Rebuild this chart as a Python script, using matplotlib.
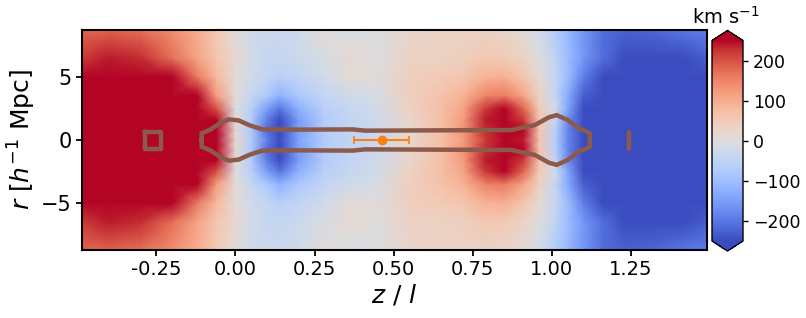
import numpy as np
import matplotlib
matplotlib.use("Agg")
import matplotlib.pyplot as plt

# ---- field samples (upper half, mirrored in r) ----
z_nodes = [-0.485, -0.4, -0.3, -0.2, -0.12, -0.06, 0.0, 0.05, 0.1, 0.14, 0.2, 0.28,
           0.36, 0.45, 0.55, 0.65, 0.72, 0.79, 0.85, 0.91, 0.96, 1.01, 1.05, 1.1,
           1.16, 1.23, 1.32, 1.42, 1.49]
r_nodes = [0.0, 0.8, 1.6, 2.5, 3.5, 5.0, 6.5, 8.7]
v_r0 = [300, 300, 300, 300, 300, 270, 20, -70, -190, -250, -140, -70, -50, -30, 20, 70, 120, 220, 300, 240, 60, -60, -180, -300, -300, -300, -300, -300, -300]
v_r08 = [300, 300, 300, 300, 300, 270, 20, -80, -210, -270, -150, -70, -50, -30, 20, 70, 130, 230, 300, 250, 60, -60, -180, -300, -300, -300, -300, -300, -300]
v_r16 = [300, 300, 300, 300, 300, 260, 10, -70, -190, -280, -150, -70, -45, -25, 25, 70, 120, 240, 300, 220, 60, -40, -170, -300, -300, -300, -300, -300, -300]
v_r25 = [300, 300, 300, 300, 300, 200, 0, -60, -150, -200, -120, -60, -40, -20, 35, 70, 110, 220, 260, 180, 50, -20, -140, -280, -300, -300, -300, -300, -300]
v_r35 = [300, 300, 300, 300, 260, 120, 10, -40, -80, -120, -80, -45, -25, -10, 40, 65, 90, 150, 160, 110, 35, -40, -130, -230, -300, -300, -300, -300, -300]
v_r50 = [300, 300, 300, 260, 160, 80, 10, -25, -40, -60, -45, -25, 10, 5, 40, 50, 60, 90, 95, 60, 15, -40, -100, -190, -260, -300, -300, -300, -280]
v_r65 = [220, 240, 230, 170, 110, 60, 20, -20, -40, -40, -30, -10, 15, 0, 30, 35, 40, 55, 50, 30, 0, -50, -100, -160, -210, -260, -260, -250, -230]
v_r87 = [180, 185, 170, 140, 100, 50, 5, -25, -30, -35, -25, 10, -10, -5, 25, 35, 30, 30, 25, 10, -20, -70, -110, -160, -210, -225, -220, -200, -190]

# ---- contour outline (upper half, mirrored) ----
contour_z = [-0.107, -0.107, -0.078, -0.045, -0.02, 0.01, 0.043, 0.085, 0.2, 0.37, 0.41,
             0.6, 0.8, 0.872, 0.946, 0.99, 1.015, 1.05, 1.083, 1.10, 1.12, 1.12]
contour_r = [0.0, 0.53, 0.84, 1.4, 1.63, 1.55, 1.18, 0.84, 0.82, 0.84, 0.74,
             0.76, 0.78, 0.79, 1.18, 1.79, 1.97, 1.58, 0.92, 0.79, 0.53, 0.0]
square_z = [-0.285, -0.235, -0.235, -0.285, -0.285]
square_r = [0.6, 0.6, -0.7, -0.7, 0.6]
tick_z = [1.243, 1.243]
tick_r = [0.6, -0.7]

# ---- measurement point ----
point_z = 0.462
point_zerr = 0.087
point_r = 0.0

xtick_vals = [-0.25, 0.0, 0.25, 0.5, 0.75, 1.0, 1.25]
xtick_labels = ['-0.25', '0.00', '0.25', '0.50', '0.75', '1.00', '1.25']
ytick_vals = [-5, 0, 5]
cbar_ticks = [-200, -100, 0, 100, 200]

# build mirrored grid
v_upper = np.array([v_r0, v_r08, v_r16, v_r25, v_r35, v_r50, v_r65, v_r87], dtype=float)
r_arr = np.array(r_nodes)
r_full = np.concatenate([-r_arr[::-1], r_arr[1:]])
V = np.vstack([v_upper[::-1], v_upper[1:]])
Z, R = np.meshgrid(np.array(z_nodes), r_full)

fig = plt.figure(figsize=(8.06, 3.18), dpi=100)
ax = fig.add_axes([82/806, 1 - 250/318, (707-82)/806, 220/318])
mesh = ax.pcolormesh(Z, R, V, cmap='coolwarm', vmin=-250, vmax=250, shading='gouraud')

brown = '#8c5a4b'
cz = np.array(contour_z)
cr = np.array(contour_r)
loop_z = np.concatenate([cz, cz[::-1]])
loop_r = np.concatenate([cr, -cr[::-1]])
ax.plot(loop_z, loop_r, color=brown, lw=3.2, solid_joinstyle='round')
ax.plot(square_z, square_r, color=brown, lw=3.2)
ax.plot(tick_z, tick_r, color=brown, lw=3.2, solid_capstyle='round')

ax.errorbar([point_z], [point_r], xerr=[point_zerr], fmt='o', color='#ff7f0e',
            ms=6, capsize=3, elinewidth=1.5, capthick=1.2)

ax.set_xlim(-0.485, 1.49)
ax.set_ylim(-8.7, 8.7)
ax.set_xticks(xtick_vals)
ax.set_xticklabels(xtick_labels)
ax.set_yticks(ytick_vals)
ax.tick_params(axis='y', labelsize=15, width=1.3, length=4)
ax.tick_params(axis='x', labelsize=14, width=1.3, length=4)
for s in ax.spines.values():
    s.set_linewidth(1.5)
ax.set_xlabel('$z$ / $l$', fontsize=18, labelpad=2)
ax.set_ylabel('$r$ [$h^{-1}$ Mpc]', fontsize=18, labelpad=2)

cax = fig.add_axes([712/806, 1 - 251/318, 31/806, 220.5/318])
cb = fig.colorbar(mesh, cax=cax, extend='both', ticks=cbar_ticks)
cb.ax.tick_params(labelsize=12.5, width=1.0, length=3.5)
cb.outline.set_linewidth(1.0)
fig.text(726/806, 1 - 24/318, 'km s$^{-1}$', ha='center', va='baseline', fontsize=14)

fig.savefig('out.png', dpi=100)
